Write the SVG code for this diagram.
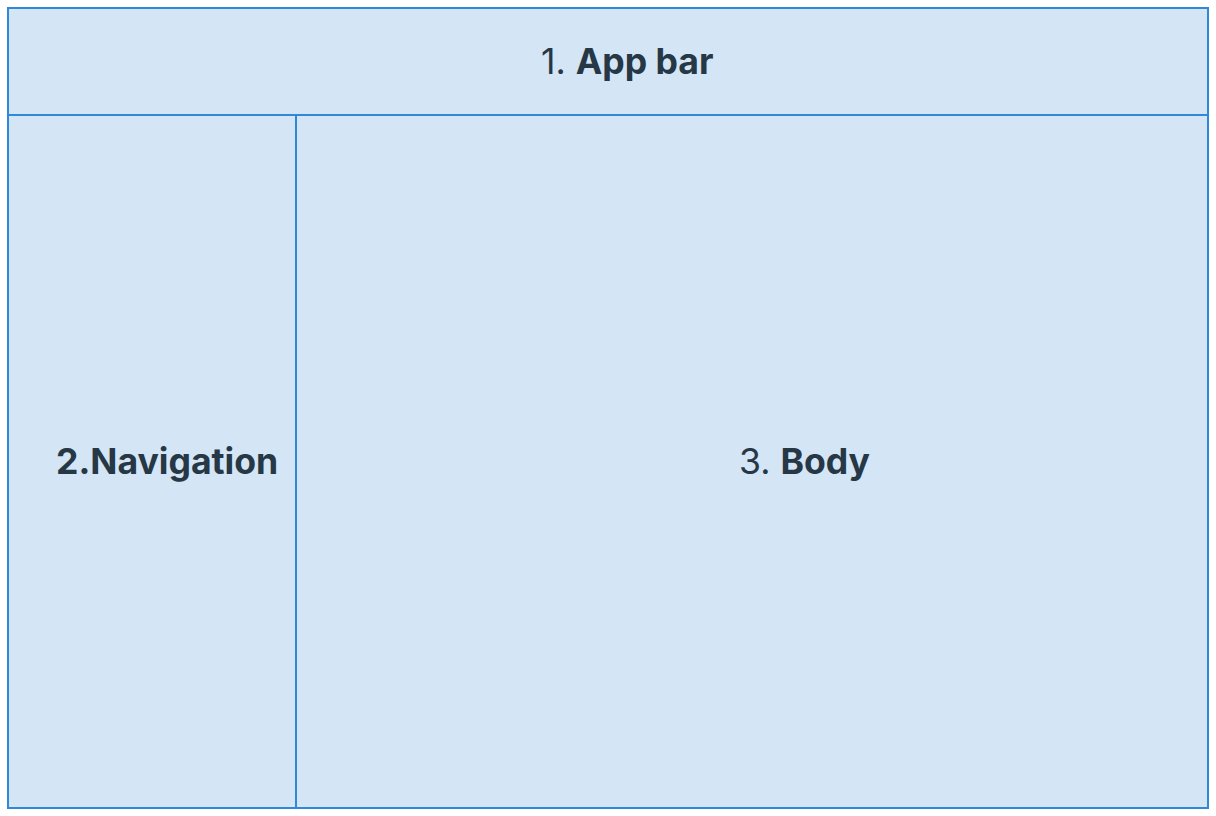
<svg xmlns="http://www.w3.org/2000/svg" width="1216" height="816" viewBox="0 0 1216 816">
<style>
.cell{fill:#d4e5f5;stroke:#2f88d8;stroke-width:2}
.lbl{font-family:Inter,"Noto Sans","Liberation Sans",sans-serif;font-size:35.6px;fill:#263746}
.b{font-weight:700}
</style>
<rect width="1216" height="816" fill="#ffffff"/>
<g id="appbar">
<rect class="cell" x="8" y="8" width="1200" height="107"/>
<text class="lbl" x="541" y="74">1. <tspan class="b">App bar</tspan></text>
</g>
<g id="navigation">
<rect class="cell" x="8" y="115" width="288" height="693"/>
<text class="lbl b" x="56" y="474">2.Navigation</text>
</g>
<g id="body">
<rect class="cell" x="296" y="115" width="912" height="693"/>
<text class="lbl" x="739" y="474">3. <tspan class="b">Body</tspan></text>
</g>
<g id="connectors"/>
</svg>
